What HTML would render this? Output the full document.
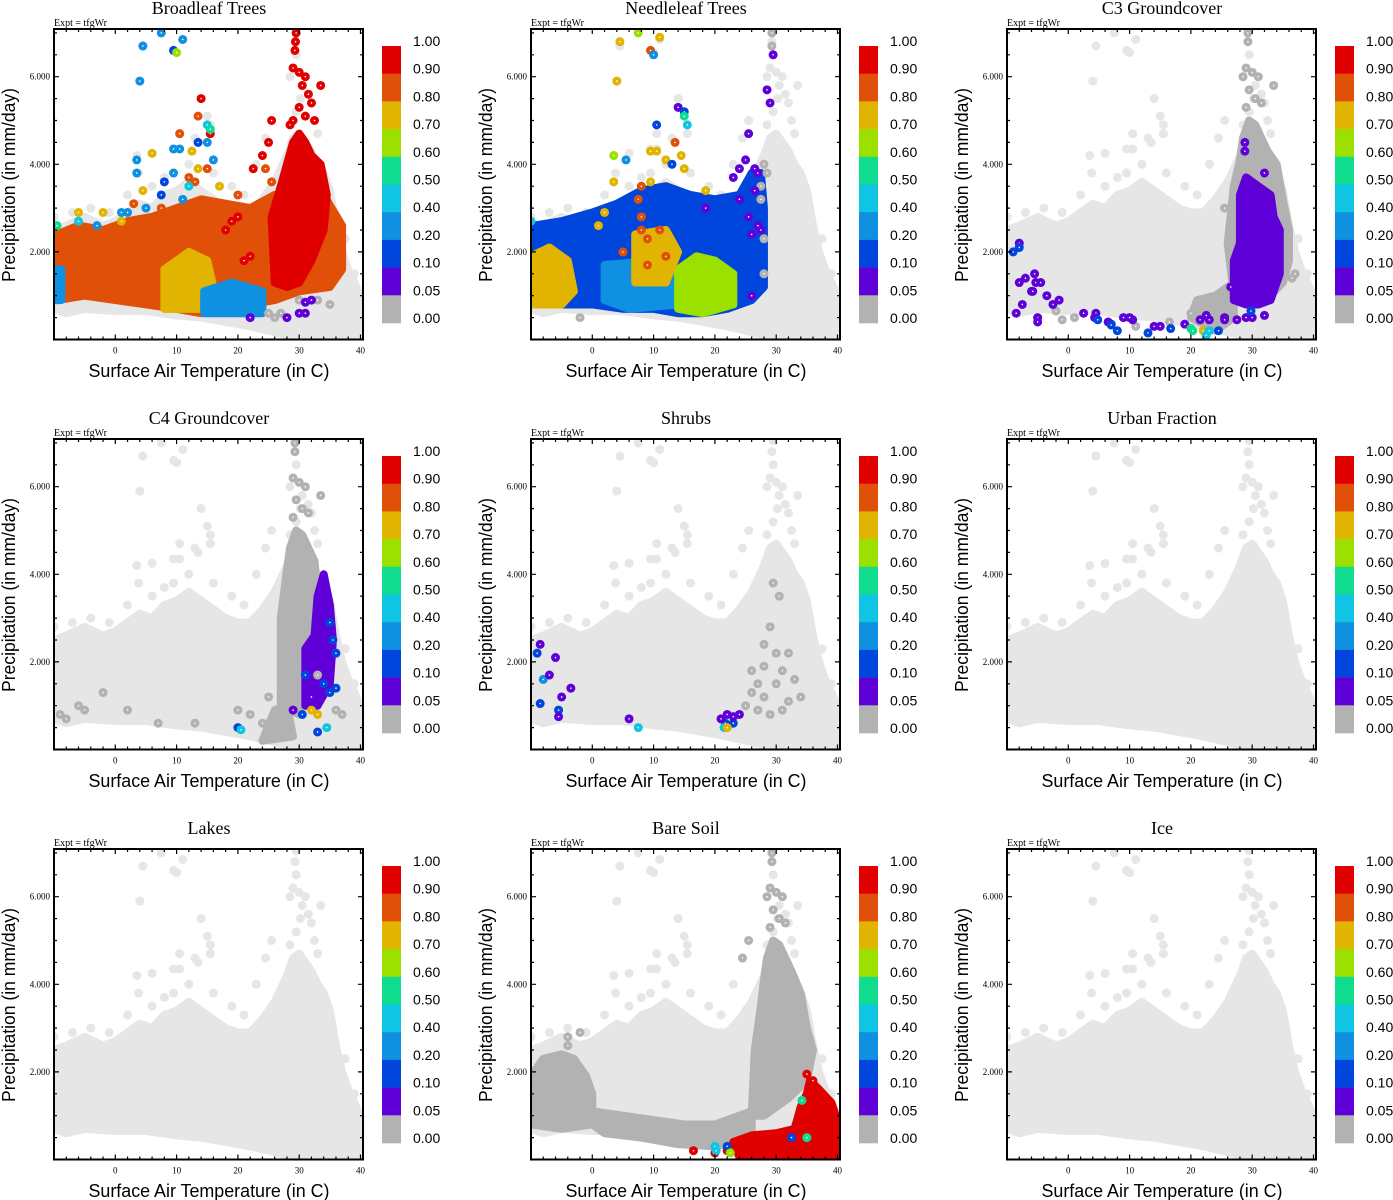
<!DOCTYPE html>
<html><head><meta charset="utf-8"><title>Land cover fractions vs temperature and precipitation</title>
<style>
html,body{margin:0;padding:0;background:#fff;}
svg{display:block;}
.ttl{font-family:"Liberation Serif",serif;font-size:18px;fill:#000;}
.expt{font-family:"Liberation Serif",serif;font-size:10px;fill:#000;}
.tick{font-family:"Liberation Serif",serif;font-size:9px;fill:#000;}
.axl{font-family:"Liberation Sans",sans-serif;font-size:18px;fill:#000;}
.cbl{font-family:"Liberation Sans",sans-serif;font-size:14px;fill:#000;}
</style></head>
<body>
<svg id="fig" width="1393" height="1200" viewBox="0 0 1393 1200" xmlns="http://www.w3.org/2000/svg"></svg>
<script>
// ---- data ----
const panelTitles=["Broadleaf Trees","Needleleaf Trees","C3 Groundcover","C4 Groundcover","Shrubs","Urban Fraction","Lakes","Bare Soil","Ice"];
const xTicks=[0,10,20,30,40];
const yTicks=[2,4,6];
const yTickLabels=["2.000","4.000","6.000"];
const cbarLabels=["1.00","0.90","0.80","0.70","0.60","0.50","0.40","0.20","0.10","0.05","0.00"];
const cbarKeys=["r","o","y","l","t","c","b2","b1","p","g"];

// base cloud of all grid cells (temperature C, precip mm/day)
const cloudOutline=[[-10,0.7],[-10,2.5],[-8,2.6],[-5,2.8],[-2,2.6],[0,2.7],[2,2.9],[4,3.1],[6,3.0],[8,3.3],[10,3.4],[12,3.6],[14,3.4],[16,3.2],[18,3.0],[20,2.9],[22,2.9],[24,3.2],[26,3.6],[27,3.9],[28,4.2],[29,4.6],[30,4.7],[31,4.5],[32,4.3],[33,4.0],[34,3.8],[35,3.4],[36,2.6],[37,2.0],[38,1.6],[40,1.0],[40.2,0.05],[36,0.05],[32,0.1],[28,0.1],[25,0.2],[22,0.3],[18,0.4],[14,0.5],[10,0.55],[5,0.65],[0,0.65],[-5,0.7],[-8,0.6]];
const cloudOutliers=[[4.5,6.7],[7.5,7.0],[9.5,6.6],[10,6.55],[11,6.85],[4,5.9],[14,5.5],[15,5.1],[15.5,4.9],[15.5,4.7],[10.5,4.7],[3.5,4.2],[3.8,3.8],[9.5,3.8],[9.5,4.35],[10.5,4.35],[6,4.25],[13,4.6],[13.5,4.5],[12,4.0],[16,3.8],[25.5,5.0],[24.5,4.6],[23,4.0],[29.5,7.05],[29.3,6.8],[29.5,6.5],[29,6.2],[30,6.1],[31,6.0],[30.5,5.8],[33.5,5.8],[28.5,6.0],[30.2,5.5],[31.5,5.6],[32,5.4],[29.5,5.2],[28.5,4.9],[32.5,5.0],[33,4.7],[-10,2.8],[-4,3.0],[-1,2.9],[-7,2.9],[2,3.3],[6,3.5],[8,3.7],[19,3.5],[21,3.3],[39,1.5],[37.5,2.3]];

// per panel: patches [colorKey, outline] and points [T, P, colorKey]
const broadleafPatches=[
 ["o",[[-9.5,0.9],[-9.5,2.4],[-6,2.6],[-2,2.5],[2,2.7],[6,2.8],[10,3.0],[14,3.2],[18,3.1],[22,3.0],[26,3.3],[30,3.1],[34,3.3],[37,2.6],[37,1.6],[35,1.2],[30,1.1],[26,0.9],[22,0.8],[18,0.7],[14,0.6],[10,0.7],[5,0.8],[0,0.9],[-5,1.0]]],
 ["y",[[8,0.7],[8,1.6],[12,2.0],[15,1.8],[16,1.2],[14,0.7]]],
 ["b2",[[14.5,0.6],[14.5,1.1],[19,1.3],[24,1.1],[24,0.6]]],
 ["b2",[[-10,0.9],[-10,1.6],[-8.8,1.6],[-8.8,0.9]]],
 ["r",[[26,1.3],[25.5,2.8],[27,3.5],[28,4.0],[29,4.5],[30,4.7],[31,4.5],[32,4.2],[33.5,4.0],[34.5,3.3],[34,2.5],[32,1.8],[30,1.3],[28,1.2]]]
];
const broadleafPoints=[[29.5,7.0,"r"],[29.4,6.8,"r"],[29.3,6.6,"r"],[29,6.2,"r"],[30,6.1,"r"],[31,6.0,"r"],[30.5,5.8,"r"],[33.5,5.8,"r"],[31.5,5.6,"r"],[32,5.4,"r"],[30,5.3,"r"],[29,5.0,"r"],[31,5.1,"r"],[32.5,5.0,"r"],[25.5,5.0,"r"],[28.5,4.9,"r"],[25,4.5,"r"],[24,4.2,"r"],[22.5,3.9,"r"],[14,5.5,"r"],[15.5,4.7,"r"],[21,1.8,"r"],[20,2.8,"r"],[18,2.5,"r"],[22,1.9,"r"],[19,2.7,"r"],
 [4.5,6.7,"b2"],[7.5,7.0,"b2"],[11,6.85,"b2"],[4,5.9,"b2"],[3.5,4.1,"b2"],[3.5,3.8,"b2"],[9.5,4.35,"b2"],[10.5,4.35,"b2"],[9.5,3.8,"b2"],[15,4.5,"b2"],[16,4.1,"b2"],[11,3.2,"b2"],[1,2.9,"b2"],[2,2.9,"b2"],[5,3.0,"b2"],[-3,2.6,"b2"],
 [9.5,6.6,"b1"],[13.5,4.5,"b1"],[7.5,3.3,"b1"],[8,3.6,"b1"],[10,6.55,"l"],
 [13.5,5.1,"o"],[10.5,4.7,"o"],[15,3.9,"o"],[3,3.1,"o"],[7.5,3.0,"o"],[12,3.7,"o"],[13,3.6,"o"],[20,3.3,"o"],[24.5,3.9,"o"],[25.5,3.6,"o"],
 [6,4.25,"y"],[4.5,3.4,"y"],[12.5,4.3,"y"],[1,2.7,"y"],[-2,2.9,"y"],[13.5,3.9,"y"],[17,3.5,"y"],[-6,2.9,"y"],
 [15,4.9,"c"],[12,3.5,"c"],[-6,2.7,"c"],[15.5,4.8,"t"],[-9.5,2.6,"t"],
 [25,0.6,"g"],[26,0.5,"g"],[27,0.6,"g"],[33,0.9,"g"],[35,0.8,"g"],[30,0.9,"g"],
 [31,0.85,"p"],[32,0.9,"p"],[30,0.6,"p"],[31,0.6,"p"],[22,0.5,"p"],[28,0.5,"p"]];

const needleleafPatches=[
 ["b1",[[-9.5,0.9],[-9.5,2.6],[-5,2.7],[0,2.9],[4,3.1],[8,3.4],[12,3.5],[16,3.3],[20,3.2],[24,3.3],[26,3.8],[27.5,3.8],[28,3.0],[28,1.2],[26,0.9],[22,0.7],[18,0.6],[14,0.6],[10,0.7],[5,0.7],[0,0.8],[-5,0.8]]],
 ["y",[[-10,0.8],[-10,1.9],[-7,2.1],[-4,1.8],[-3,1.1],[-5,0.8]]],
 ["b2",[[2,0.9],[2,1.7],[10,1.8],[14,1.4],[14,0.8],[6,0.7]]],
 ["l",[[14,0.7],[14,1.6],[17,1.9],[20,1.8],[23,1.5],[23,0.8],[18,0.6]]],
 ["y",[[7,1.3],[7,2.4],[12,2.5],[14,2.0],[12,1.3]]]
];
const needleleafPoints=[[29.3,7.0,"g"],[29.3,6.7,"g"],[28,4.0,"g"],[28.5,3.8,"g"],[27.5,3.5,"g"],[27.5,3.2,"g"],[28,2.3,"g"],[28,1.5,"g"],[-2,0.5,"g"],
 [29.5,6.5,"p"],[28.5,5.7,"p"],[29,5.4,"p"],[14,5.3,"p"],[25.5,4.7,"p"],[25,4.1,"p"],[24,3.9,"p"],[23,3.7,"p"],[26.5,3.9,"p"],[27,3.8,"p"],[26.5,3.4,"p"],[24,3.2,"p"],[18.5,3.0,"p"],[25.5,2.8,"p"],[27,2.6,"p"],[27.5,2.5,"p"],[26,2.4,"p"],[26,1.0,"p"],
 [9.5,6.6,"o"],[13.5,4.5,"o"],[8,3.5,"o"],[7.5,3.2,"o"],[8,2.8,"o"],[8,2.5,"o"],[11,2.5,"o"],[9,2.3,"o"],[5,2.0,"o"],[12,1.9,"o"],[9,1.7,"o"],
 [4.5,6.8,"y"],[11,6.9,"y"],[4,5.9,"y"],[9.5,4.3,"y"],[10.5,4.3,"y"],[12,4.1,"y"],[14.5,4.2,"y"],[15,3.9,"y"],[3.5,3.6,"y"],[9.5,3.6,"y"],[1,2.6,"y"],[2,2.9,"y"],[18.5,3.4,"y"],
 [10,6.5,"b2"],[15,5.2,"b1"],[10.5,4.9,"b1"],[5.5,4.1,"b2"],[13,4.0,"b1"],[15.5,4.9,"c"],[-10,2.7,"c"],[15,5.1,"t"],[7.5,7.0,"l"],[3.5,4.2,"l"]];

const c3Patches=[
 ["g",[[27,1.0],[26,2.2],[27,3.5],[28,4.1],[28.5,4.6],[29.5,5.0],[30.5,4.9],[31.5,4.6],[32.5,4.3],[34,4.0],[35,3.2],[36,2.5],[36,1.8],[35,1.3],[33,1.0],[30,0.8]]],
 ["g",[[20,0.5],[21,0.9],[24,1.0],[27,1.3],[27,0.5],[24,0.2]]],
 ["p",[[27,0.9],[27,1.8],[28,2.2],[28,3.3],[29,3.7],[31,3.5],[33,3.3],[33.5,2.8],[34.5,2.5],[34.5,1.5],[33,0.9],[31,0.8],[29,0.8]]]
];
const c3Points=[[29.3,7.0,"g"],[29.3,6.8,"g"],[29,6.2,"g"],[30,6.1,"g"],[31,6.0,"g"],[33.5,5.8,"g"],[28.5,6.0,"g"],[29.5,5.7,"g"],[30.5,5.5,"g"],[31.5,5.4,"g"],[29,5.3,"g"],[25.5,3.0,"g"],[-2,0.65,"g"],[-1,0.45,"g"],[1,0.5,"g"],[11,0.3,"g"],[16.5,0.4,"g"],[20,0.6,"g"],[36.5,1.4,"g"],[37,1.5,"g"],
 [28.8,4.5,"p"],[28.8,4.3,"p"],[32,3.8,"p"],[-8,2.2,"p"],[-8,1.3,"p"],[-7,1.4,"p"],[-6,1.1,"p"],[-5.5,1.5,"p"],[-5.3,1.3,"p"],[-4.5,1.3,"p"],[-5.8,1.1,"p"],[-3.5,1.0,"p"],[-1.5,0.9,"p"],[-2.5,0.8,"p"],[-8.5,0.6,"p"],[-7.5,0.8,"p"],[-5,0.5,"p"],[-5,0.4,"p"],[2.5,0.6,"p"],[4.5,0.6,"p"],[4.3,0.5,"p"],[6.5,0.4,"p"],[7,0.35,"p"],[9,0.5,"p"],[10.5,0.45,"p"],[10,0.5,"p"],[14,0.3,"p"],[15,0.3,"p"],[19,0.35,"p"],[21.5,0.45,"p"],[23,0.45,"p"],[22.5,0.55,"p"],[25.5,0.5,"p"],[25.5,0.45,"p"],[27.5,0.45,"p"],[29,0.5,"p"],[30,0.5,"p"],[26.5,1.2,"p"],[32,0.55,"p"],
 [-9,2.0,"b1"],[-8,2.1,"b1"],[4.8,0.45,"b1"],[7,0.33,"b1"],[8,0.2,"b1"],[13,0.15,"b1"],[16.7,0.25,"b1"],[24.5,0.2,"b1"],[29.8,0.65,"b1"],
 [20,0.25,"t"],[20.3,0.2,"t"],[22,0.2,"y"],[22.5,0.1,"c"],[23,0.2,"c"]];

const c4Patches=[
 ["g",[[27,1.0],[27,3.0],[28,4.1],[28.5,4.6],[29.5,5.0],[30.5,4.9],[31.5,4.6],[32.5,4.3],[33,3.5],[32.5,2.5],[31.5,1.5],[30,0.8]]],
 ["g",[[24,0.2],[26,0.9],[28,1.0],[29,0.3]]],
 ["p",[[31,1.0],[31,2.3],[32.5,2.6],[33,3.5],[34,4.0],[35,3.3],[35.5,2.5],[35,1.5],[33,1.0]]]
];
const c4Points=[[-6,1.0,"g"],[-5,0.9,"g"],[-2,1.3,"g"],[-8,0.7,"g"],[-9,0.8,"g"],[2,0.9,"g"],[7,0.6,"g"],[13,0.6,"g"],[20,0.9,"g"],[22,0.8,"g"],[25,1.2,"g"],[24,0.6,"g"],[36,0.9,"g"],[37,0.8,"g"],[33,1.7,"g"],[29.3,7.0,"g"],[29.3,6.8,"g"],[29,6.2,"g"],[30,6.1,"g"],[31,6.0,"g"],[33.5,5.8,"g"],[29.5,5.7,"g"],[30.5,5.5,"g"],[31.5,5.4,"g"],[29,5.3,"g"],
 [35.5,2.5,"b1"],[36,2.2,"b1"],[35,2.9,"b1"],[35,1.3,"b1"],[36,1.4,"b1"],[34,1.5,"b1"],[30.5,0.8,"b1"],[31,1.7,"b1"],[33,0.4,"b1"],[20,0.5,"b1"],
 [32,0.9,"y"],[33,0.8,"y"],[34.5,0.5,"c"],[20.5,0.45,"c"],[32,1.2,"p"],[29,0.9,"p"]];

const shrubsPatches=[];
const shrubsPoints=[[29.5,3.8,"g"],[30.5,3.5,"g"],[29,2.8,"g"],[28,2.4,"g"],[27,1.5,"g"],[28,1.2,"g"],[30,1.5,"g"],[31,1.8,"g"],[32,2.2,"g"],[33,1.6,"g"],[32,1.1,"g"],[31,0.9,"g"],[27,0.9,"g"],[26,1.3,"g"],[29,0.8,"g"],[30,2.2,"g"],[28,1.9,"g"],[26,1.8,"g"],[25,1.0,"g"],[34,1.2,"g"],
 [-9,2.2,"b1"],[-8.5,1.05,"b1"],[-5.5,0.9,"b1"],[-8,1.6,"b2"],[23,0.6,"b1"],[21.7,0.6,"b1"],
 [-8.5,2.4,"p"],[-6,2.1,"p"],[-7,1.7,"p"],[-5,1.2,"p"],[-3.5,1.4,"p"],[-5.5,0.75,"p"],[6,0.7,"p"],[21,0.7,"p"],[22,0.8,"p"],[23,0.75,"p"],[24,0.8,"p"],
 [7.5,0.5,"c"],[21.5,0.5,"c"],[22,0.5,"y"]];

const bareSoilPatches=[
 ["g",[[-10,0.8],[-10,1.9],[-8,2.3],[-5,2.4],[-3,2.3],[-1,1.9],[0,1.5],[0,0.8],[-5,0.7]]],
 ["g",[[26,1.0],[26.5,2.5],[27.5,3.5],[28,4.1],[28.5,4.6],[29.5,5.0],[30.5,4.9],[31.5,4.6],[32.5,4.3],[34,3.8],[35,3.0],[36,2.5],[35,1.8],[32,1.4],[28,1.0]]],
 ["g",[[0,0.8],[0,1.1],[5,1.0],[10,0.9],[15,0.8],[20,0.8],[26,1.1],[26,0.5],[20,0.3],[14,0.35],[8,0.5],[2,0.6]]],
 ["r",[[24,0.05],[23,0.4],[26,0.55],[30,0.6],[33,0.7],[34,1.2],[35,1.5],[35.5,1.8],[37,1.6],[39,1.3],[40.2,0.8],[40.2,0.05]]]
];
const bareSoilPoints=[[29.3,7.0,"g"],[29.3,6.8,"g"],[29,6.2,"g"],[30,6.1,"g"],[31,6.0,"g"],[28.5,6.0,"g"],[29.5,5.7,"g"],[30.5,5.5,"g"],[31.5,5.4,"g"],[29,5.3,"g"],[25.5,5.0,"g"],[24.5,4.6,"g"],[-4,2.6,"g"],[-4,2.8,"g"],[-2,2.9,"g"],
 [35,1.95,"r"],[36,1.8,"r"],[16.5,0.2,"r"],[20,0.15,"r"],[22,0.2,"r"],
 [34.2,1.35,"t"],[35,0.5,"t"],[20,0.3,"c"],[20.2,0.2,"c"],[22,0.3,"b1"],[32.5,0.5,"b1"],[22.5,0.15,"l"]];

const panelPatches=[broadleafPatches,needleleafPatches,c3Patches,c4Patches,shrubsPatches,[],[],bareSoilPatches,[]];
const panelPoints=[broadleafPoints,needleleafPoints,c3Points,c4Points,shrubsPoints,[],[],bareSoilPoints,[]];

// ---- drawing ----
const COL={g0:'#e6e6e6',g:'#b2b2b2',p:'#6000d8',b1:'#0046dc',b2:'#1090e0',c:'#10c4e4',t:'#10dc90',l:'#9ce000',y:'#e0b400',o:'#e05008',r:'#e00000'};
const NS='http://www.w3.org/2000/svg';
const svg=document.getElementById('fig');
const PL=54,PR=363,PT=29,PB=339.5;
function xs(T){return PL+(T+10)*6.13;}
function ys(P){return PB-P*43.8;}
function mk(tag,attrs,parent){const e=document.createElementNS(NS,tag);for(const k in attrs)e.setAttribute(k,attrs[k]);parent.appendChild(e);return e;}
function slug(s){return s.toLowerCase().replace(/[^a-z0-9]+/g,'-');}

panelTitles.forEach((title,i)=>{
  const dx=[0,477,953][i%3], dy=[0,410,820][Math.floor(i/3)];
  const g=mk('g',{transform:`translate(${dx},${dy})`},svg);
  
  
  const t=mk('text',{x:209,y:14,'text-anchor':'middle',class:'ttl'},g);t.textContent=title;
  
  
  const ex=mk('text',{x:54,y:26,class:'expt'},g);ex.textContent='Expt = tfgWr';
  
  
  const clipId='clip'+i;
  const cp=mk('clipPath',{id:clipId},g);mk('rect',{x:PL,y:PT,width:PR-PL,height:PB-PT},cp);
  const plot=mk('g',{'clip-path':`url(#${clipId})`},g);
  
  
  const cl=mk('polygon',{points:cloudOutline.map(p=>xs(p[0])+','+ys(p[1])).join(' '),fill:COL.g0,stroke:COL.g0,'stroke-width':8,'stroke-linejoin':'round'},plot);
  
  
  cloudOutliers.forEach(p=>{
    const c=mk('circle',{cx:xs(p[0]),cy:ys(p[1]),r:4.5,fill:COL.g0},plot);
    
    
  });
  panelPatches[i].forEach(pt=>{
    const pg=mk('polygon',{points:pt[1].map(p=>xs(p[0])+','+ys(p[1])).join(' '),fill:COL[pt[0]],stroke:COL[pt[0]],'stroke-width':8,'stroke-linejoin':'round'},plot);
    
    
  });
  panelPoints[i].forEach(p=>{
    const c=mk('circle',{cx:xs(p[0]),cy:ys(p[1]),r:4.5,fill:COL[p[2]]},plot);
    
    
    mk('circle',{cx:xs(p[0]),cy:ys(p[1]),r:0.8,fill:'#fff'},plot);
  });
  const fr=mk('rect',{x:PL,y:PT,width:PR-PL,height:PB-PT,fill:'none',stroke:'#000','stroke-width':2},g);
  
  
  let d='';
  for(let v=-10;v<=40;v+=2){const x=xs(v);const L=(v%10===0)?5:3;d+=`M${x},${PB}v${-L}M${x},${PT}v${L}`;}
  for(let v=0.5;v<=7;v+=0.5){const y=ys(v);const L=(v%2===0)?5:3;d+=`M${PL},${y}h${L}M${PR},${y}h${-L}`;}
  mk('path',{d:d,stroke:'#000','stroke-width':1.2,fill:'none'},g);
  xTicks.forEach(v=>{const tt=mk('text',{x:xs(v),y:PB+14,'text-anchor':'middle',class:'tick'},g);tt.textContent=v;
    
    });
  yTicks.forEach((v,k)=>{const tt=mk('text',{x:PL-4,y:ys(v)+3,'text-anchor':'end',class:'tick'},g);tt.textContent=yTickLabels[k];
    
    });
  const xl=mk('text',{x:209,y:377,'text-anchor':'middle',class:'axl',textLength:241,lengthAdjust:'spacingAndGlyphs'},g);xl.textContent='Surface Air Temperature (in C)';
  
  
  const yl=mk('text',{x:0,y:0,'text-anchor':'middle',class:'axl',transform:'translate(15,185) rotate(-90)',textLength:194,lengthAdjust:'spacingAndGlyphs'},g);yl.textContent='Precipitation (in mm/day)';
  
  
  const cb=mk('g',{},g);
  
  
  const cbTop=46,cbH=27.7;
  cbarKeys.forEach((k,j)=>{
    const r=mk('rect',{x:382,y:cbTop+j*cbH,width:19,height:cbH+0.3,fill:COL[k]},cb);
    
    
  });
  cbarLabels.forEach((s,j)=>{
    const tt=mk('text',{x:413,y:cbTop+j*cbH,class:'cbl'},cb);tt.textContent=s;
    
    
  });
});
</script>
</body></html>
